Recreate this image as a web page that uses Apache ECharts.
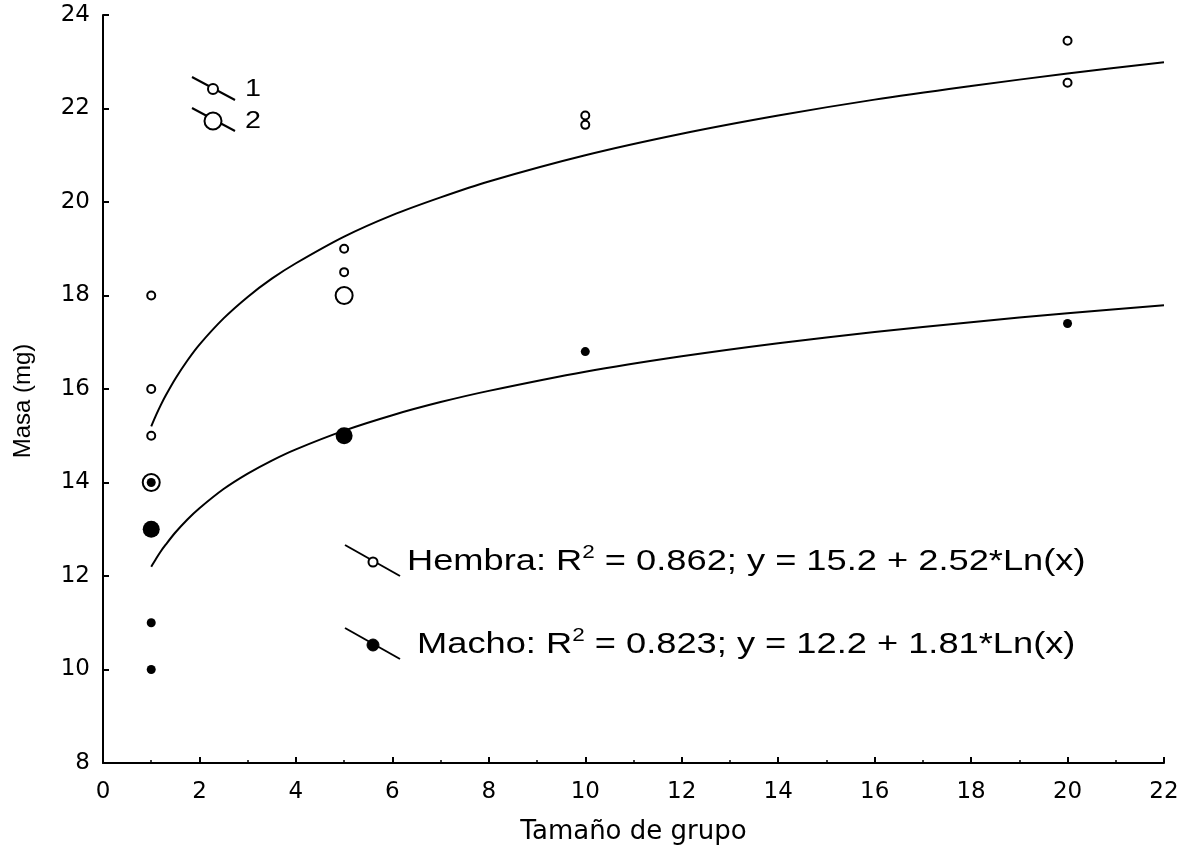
<!DOCTYPE html>
<html lang="es">
<head>
    <meta charset="UTF-8" />
    <title>Masa vs tamaño de grupo</title>
    <style>
        html, body { margin: 0; padding: 0; background: #fff; }
        #chart { width: 1190px; height: 856px; }
    </style>
</head>
<body>
    <div id="chart"></div>
    <script src="https://cdn.jsdelivr.net/npm/echarts@6/dist/echarts.min.js"></script>
    <script>
        // puntos observados: [tamaño de grupo, masa]
        const hembraChico = [[1, 18], [1, 16], [1, 15], [5, 19], [5, 18.5], [10, 21.85], [10, 21.65], [20, 23.45], [20, 22.55]]
        const hembraGrande = [[1, 14], [5, 18]]
        const machoChico = [[1, 14], [1, 11], [1, 10], [10, 16.8], [20, 17.4]]
        const machoGrande = [[1, 13], [5, 15]]

        // curvas de ajuste
        const curvaX = [1, 1.1, 1.2, 1.3, 1.5, 1.75, 2, 2.5, 3, 3.5, 4, 5, 6, 7, 8, 10, 12, 14, 16, 18, 20, 22]
        const curvaHembra = [15.2, 15.44, 15.66, 15.86, 16.22, 16.61, 16.95, 17.51, 17.97, 18.36, 18.69, 19.26, 19.72, 20.1, 20.44, 21.0, 21.46, 21.85, 22.19, 22.48, 22.75, 22.99]
        const curvaMacho = [12.2, 12.37, 12.53, 12.67, 12.93, 13.21, 13.45, 13.86, 14.19, 14.47, 14.71, 15.11, 15.44, 15.72, 15.96, 16.37, 16.7, 16.98, 17.22, 17.43, 17.62, 17.79]

        const textoHembra = ['Hembra: R', '2', ' = 0.862; y = 15.2 + 2.52*Ln(x)']
        const textoMacho = [' Macho: R', '2', ' = 0.823; y = 12.2 + 1.81*Ln(x)']

        const chart = echarts.init(document.getElementById('chart'))

        const ejeComun = {
            axisLine: { show: true, onZero: false, lineStyle: { color: '#000', width: 2 } },
            axisTick: { show: true, inside: true, length: 6, lineStyle: { color: '#000', width: 2 } },
            splitLine: { show: false },
            nameLocation: 'middle'
        }

        const rich = {
            n: { fontFamily: 'Liberation Sans', fontSize: 29, lineHeight: 36, fill: '#000' },
            s: { fontFamily: 'Liberation Sans', fontSize: 18, lineHeight: 18, verticalAlign: 'top', fill: '#000' }
        }
        const armar = (t) => '{n|' + t[0] + '}{s|' + t[1] + '}{n|' + t[2] + '}'

        const option = {
            backgroundColor: '#fff',
            animation: false,
            grid: { left: 103, right: 26, top: 15, bottom: 93 },
            xAxis: Object.assign({}, ejeComun, {
                type: 'value', min: 0, max: 22, interval: 2,
                name: 'Tamaño de grupo', nameGap: 56,
                nameTextStyle: { fontFamily: 'DejaVu Sans', fontSize: 26, color: '#000' },
                minorTick: { show: true, splitNumber: 2, length: 3, lineStyle: { color: '#000', width: 1.5 } },
                axisLabel: { fontFamily: 'DejaVu Sans', fontSize: 23, color: '#000', margin: 18 }
            }),
            yAxis: Object.assign({}, ejeComun, {
                type: 'value', min: 8, max: 24, interval: 2,
                name: 'Masa (mg)', nameGap: 68,
                nameTextStyle: { fontFamily: 'Liberation Sans', fontSize: 24, color: '#000', padding: [0, 24, 0, 0] },
                axisLabel: { fontFamily: 'DejaVu Sans', fontSize: 23, color: '#000', margin: 13 }
            }),
            series: [
                {
                    type: 'line', smooth: 0.3, showSymbol: false, silent: true,
                    data: curvaX.map((x, i) => [x, curvaHembra[i]]),
                    lineStyle: { color: '#000', width: 2 }
                },
                {
                    type: 'line', smooth: 0.3, showSymbol: false, silent: true,
                    data: curvaX.map((x, i) => [x, curvaMacho[i]]),
                    lineStyle: { color: '#000', width: 2 }
                },
                {
                    type: 'scatter', data: hembraGrande, symbol: 'circle', symbolSize: 17, z: 3,
                    itemStyle: { color: '#fff', borderColor: '#000', borderWidth: 2, opacity: 1 }
                },
                {
                    type: 'scatter', data: hembraChico, symbol: 'circle', symbolSize: 8, z: 3,
                    itemStyle: { color: '#fff', borderColor: '#000', borderWidth: 2, opacity: 1 }
                },
                {
                    type: 'scatter', data: machoGrande, symbol: 'circle', symbolSize: 17, z: 4,
                    itemStyle: { color: '#000', opacity: 1 }
                },
                {
                    type: 'scatter', data: machoChico, symbol: 'circle', symbolSize: 9, z: 4,
                    itemStyle: { color: '#000', opacity: 1 }
                }
            ],
            graphic: [
                // leyenda de tamaño de muestra
                { type: 'line', shape: { x1: 192, y1: 77, x2: 235, y2: 100 }, style: { stroke: '#000', lineWidth: 2 } },
                { type: 'circle', shape: { cx: 213, cy: 89, r: 5 }, style: { fill: '#fff', stroke: '#000', lineWidth: 2 } },
                { type: 'text', x: 245, y: 90, scaleX: 1.25, style: { text: '1', fontFamily: 'Liberation Sans', fontSize: 23, fill: '#000', verticalAlign: 'middle' } },
                { type: 'line', shape: { x1: 192, y1: 108, x2: 235, y2: 131 }, style: { stroke: '#000', lineWidth: 2 } },
                { type: 'circle', shape: { cx: 213, cy: 121, r: 8.5 }, style: { fill: '#fff', stroke: '#000', lineWidth: 2 } },
                { type: 'text', x: 245, y: 122, scaleX: 1.25, style: { text: '2', fontFamily: 'Liberation Sans', fontSize: 23, fill: '#000', verticalAlign: 'middle' } },
                // ecuaciones
                { type: 'line', shape: { x1: 345, y1: 545, x2: 400, y2: 576 }, style: { stroke: '#000', lineWidth: 2 } },
                { type: 'circle', shape: { cx: 373, cy: 562, r: 4.5 }, style: { fill: '#fff', stroke: '#000', lineWidth: 2 } },
                { type: 'text', x: 407, y: 562, scaleX: 1.25, style: { text: armar(textoHembra), rich: rich, verticalAlign: 'middle' } },
                { type: 'line', shape: { x1: 345, y1: 628, x2: 400, y2: 659 }, style: { stroke: '#000', lineWidth: 2 } },
                { type: 'circle', shape: { cx: 373, cy: 645, r: 6 }, style: { fill: '#000', stroke: '#000', lineWidth: 1 } },
                { type: 'text', x: 407, y: 645, scaleX: 1.25, style: { text: armar(textoMacho), rich: rich, verticalAlign: 'middle' } }
            ]
        }
        chart.setOption(option)
    </script>
</body>
</html>
